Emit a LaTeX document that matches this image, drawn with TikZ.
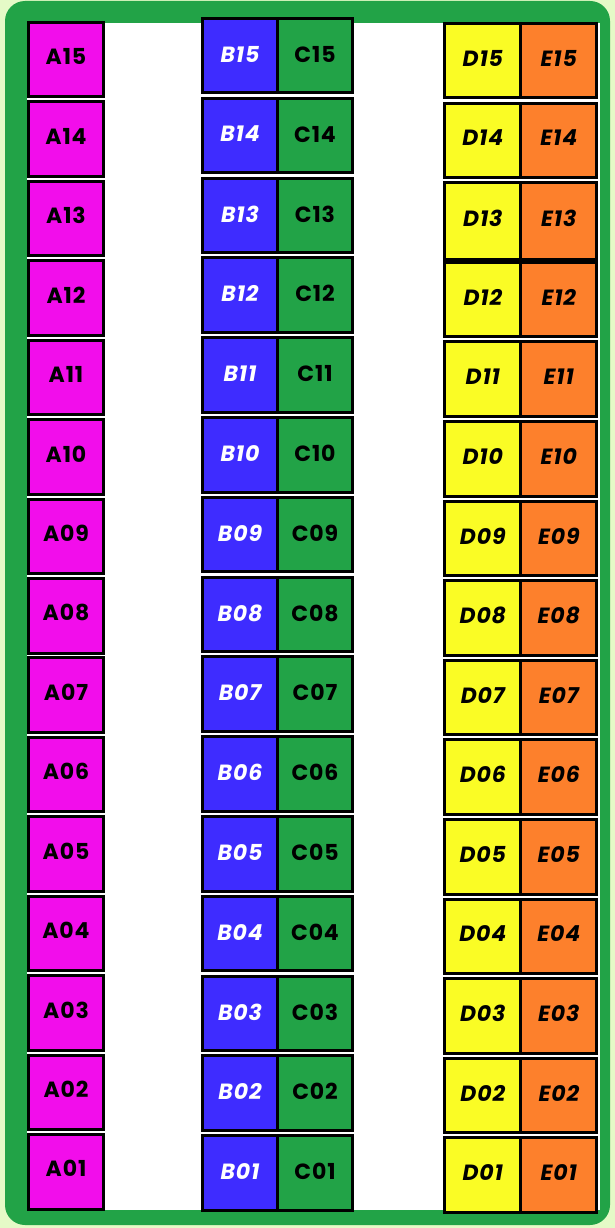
\documentclass[tikz,border=0pt]{standalone}
\usepackage{fontspec}
\setmainfont{Poppins}[LetterSpace=4]
\usetikzlibrary{positioning}
\definecolor{palebg}{RGB}{229,250,199}
\definecolor{framegreen}{RGB}{34,163,71}
\definecolor{cellmag}{RGB}{242,13,235}
\definecolor{cellblue}{RGB}{62,44,255}
\definecolor{cellgreen}{RGB}{34,163,71}
\definecolor{cellyellow}{RGB}{250,252,37}
\definecolor{cellorange}{RGB}{253,128,44}
\newcommand{\twodig}[1]{\ifnum#1<10 0\fi#1}
\tikzset{
  cell/.style={draw=black, line width=3pt, outer sep=0pt, inner sep=0pt,
    minimum width=75pt, minimum height=74.5pt,
    font=\bfseries\fontsize{22}{22}\selectfont},
  widecell/.style={cell, minimum width=76pt},
  slant/.style={font=\bfseries\itshape\fontsize{22}{22}\selectfont}
}
\begin{document}
\begin{tikzpicture}[x=1pt,y=-1pt]
\useasboundingbox[fill=palebg] (0,0) rectangle (615,1228);
% frame
\fill[framegreen, rounded corners=20pt] (5,1) rectangle (610,1225);
\fill[white] (27,23) rectangle (600,1210);

% column A
\foreach \i in {1,...,15}
  \node[cell, fill=cellmag, anchor=north west] (a\i) at (28.5, {22.5+(15-\i)*79.43})
    {\raisebox{6pt}{A\twodig{\i}}};

% columns B and C
\foreach \i in {1,...,15} {
  \node[cell, slant, fill=cellblue, text=white, anchor=north west] (b\i) at (202.5, {18.5+(15-\i)*79.8})
    {\raisebox{3pt}{B\twodig{\i}}};
  \node[cell, fill=cellgreen, right=0pt of b\i] (c\i) {\raisebox{3pt}{C\twodig{\i}}};
}

% columns D and E (row 13 reaches down onto row 12)
\foreach \i in {1,...,15} {
  \ifnum\i=13 \def\dh{76.5pt}\else\def\dh{74.5pt}\fi
  \node[widecell, slant, minimum height=\dh, fill=cellyellow, anchor=north west] (d\i) at (444.8, {23.5+(15-\i)*79.6})
    {\raisebox{5pt}{D\twodig{\i}}};
  \node[widecell, slant, minimum height=\dh, fill=cellorange, right=0pt of d\i] (e\i) {\raisebox{5pt}{E\twodig{\i}}};
}
\end{tikzpicture}
\end{document}
